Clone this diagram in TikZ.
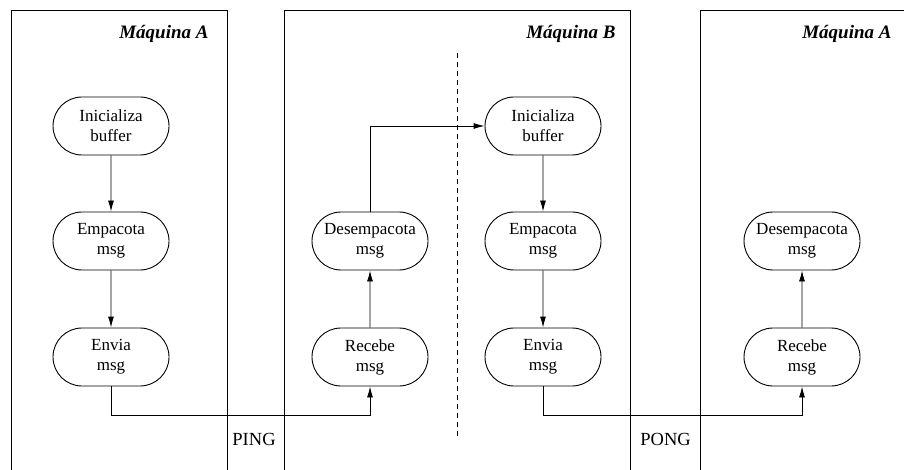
\documentclass[tikz,border=0pt]{standalone}
\usepackage{fontspec}
\setmainfont{Liberation Serif}
\usetikzlibrary{shapes.misc,arrows.meta}
\begin{document}
\begin{tikzpicture}[x=1pt,y=-1pt,
  every path/.style={line width=0.9pt},
  proc/.style={draw, rounded rectangle, minimum width=116pt, minimum height=58pt,
    inner sep=0pt, align=center, font=\fontsize{17}{20}\selectfont},
  flow/.style={-{Latex[length=11pt,width=6pt]}},
  title/.style={font=\fontsize{19}{22}\selectfont\bfseries\itshape, anchor=base east, inner sep=0pt},
  msg/.style={font=\fontsize{18.5}{22}\selectfont, anchor=base west, inner sep=0pt}]
\useasboundingbox (0,0) rectangle (904,470);

% machine frames (open at the bottom)
\draw (11,470) -- (11,10) -- (227,10) -- (227,470);
\draw (284,470) -- (284,10) -- (630,10) -- (630,470);
\draw (700,470) -- (700,10) -- (904,10);

% machine titles
\node[title] (tA1) at (209,39) {Máquina A};
\node[title] (tB)  at (616,39) {Máquina B};
\node[title] (tA2) at (892,39) {Máquina A};

% split between receiving and sending halves of machine B
\draw[dashed, dash pattern=on 5pt off 4pt] (457,53) -- (457,437);

% first machine A: prepare and send
\node[proc] (i1) at (111,126) {Inicializa\\buffer};
\node[proc] (e1) at (111,241) {Empacota\\msg};
\node[proc] (v1) at (111,357) {Envia\\msg};

% machine B, receiving half
\node[proc] (d2) at (370,241) {Desempacota\\msg};
\node[proc] (r2) at (370,357) {Recebe\\msg};

% machine B, sending half
\node[proc] (i3) at (543,126) {Inicializa\\buffer};
\node[proc] (e3) at (543,241) {Empacota\\msg};
\node[proc] (v3) at (543,357) {Envia\\msg};

% second machine A: receive
\node[proc] (d4) at (802,241) {Desempacota\\msg};
\node[proc] (r4) at (802,357) {Recebe\\msg};

% message labels
\node[msg] (ping) at (232,445) {PING};
\node[msg] (pong) at (640,445) {PONG};

% connectors
\coordinate (p1) at (111,415);
\coordinate (p2) at (370,415);
\coordinate (p3) at (370,126);
\coordinate (p4) at (543,415);
\coordinate (p5) at (802,415);

\draw[flow] (i1) -- (e1);
\draw[flow] (e1) -- (v1);
\draw[flow] (v1.south) -- (p1) -- (p2) -- (r2.south);
\draw[flow] (r2) -- (d2);
\draw[flow] (d2.north) -- (p3) -- (i3.west);
\draw[flow] (i3) -- (e3);
\draw[flow] (e3) -- (v3);
\draw[flow] (v3.south) -- (p4) -- (p5) -- (r4.south);
\draw[flow] (r4) -- (d4);
\end{tikzpicture}
\end{document}
